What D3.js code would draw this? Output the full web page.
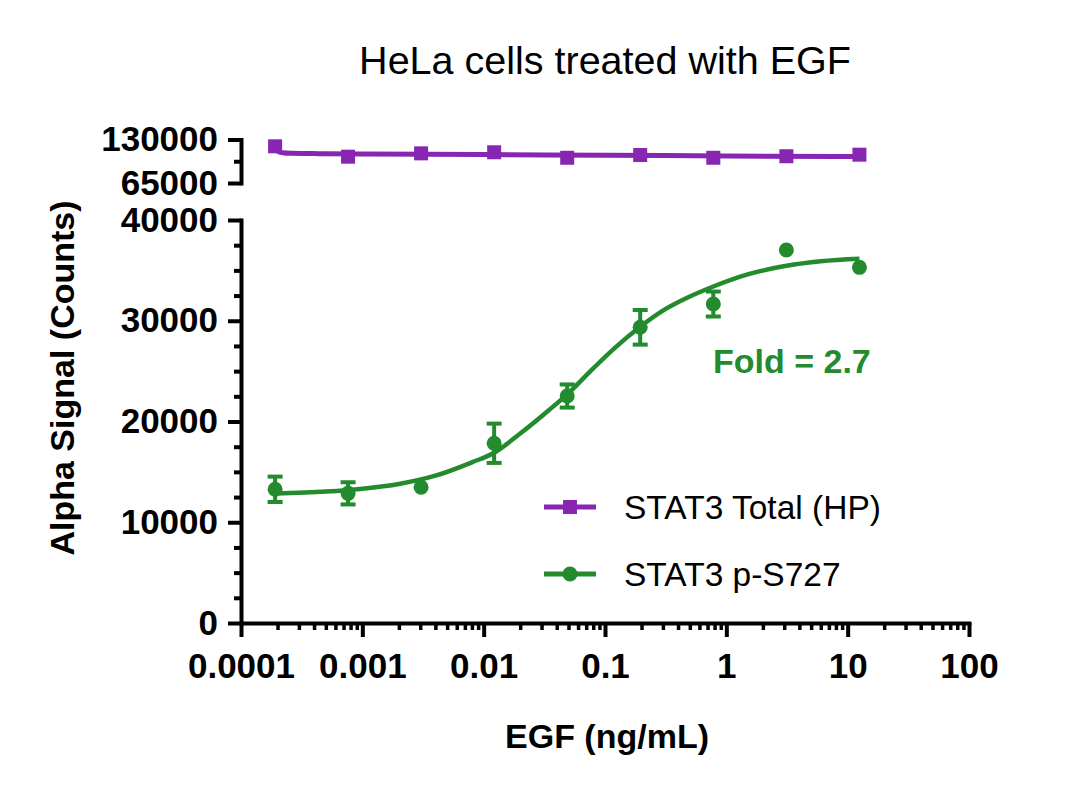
<!DOCTYPE html>
<html><head><meta charset="utf-8">
<script src="https://cdn.jsdelivr.net/npm/d3@7"></script>
<style>body{margin:0;background:#fff}svg{display:block}</style>
</head><body><svg id="c" width="1080" height="794"></svg>
<script>
// ---- data ----
const concentrations = [0.000191, 0.000763, 0.00305, 0.0122, 0.0488, 0.195, 0.781, 3.125, 12.5];
const totalValues = [119800, 104300, 109300, 110900, 102700, 106800, 102700, 105000, 107300];
const phosValues = [13270, 12870, 13470, 17840, 22530, 29350, 31660, 37020, 35300];
const phosErrors = [1260, 1100, 0, 1950, 1150, 1720, 1240, 0, 0];
const totalCurveX = [0.000191, 0.0002, 0.00022, 0.00026, 0.0004, 0.001, 0.01, 0.1, 1, 12.5];
const totalCurveY = [117000, 113000, 110200, 109300, 108900, 108400, 107500, 106500, 105400, 104500];
const phosCurveX = [0.000191, 0.0005, 0.001, 0.002, 0.004, 0.008, 0.0122, 0.02, 0.035, 0.0488, 0.08, 0.12, 0.195, 0.3, 0.5, 0.781, 1.5, 3.125, 6, 12.5];
const phosCurveY = [12860, 13050, 13330, 13800, 14620, 15950, 16900, 18800, 21190, 22700, 25270, 27280, 29400, 31000, 32400, 33400, 34600, 35450, 35900, 36150];
const xTickValues = [1e-4, 1e-3, 1e-2, 0.1, 1, 10, 100];
const xTickLabels = ["0.0001", "0.001", "0.01", "0.1", "1", "10", "100"];
const yLowTicks = [0, 10000, 20000, 30000, 40000];
const yHighTicks = [65000, 130000];
const seriesNames = ["STAT3 Total (HP)", "STAT3 p-S727"];
const titleText = "HeLa cells treated with EGF";
const xTitle = "EGF (ng/mL)";
const yTitle = "Alpha Signal (Counts)";
const foldText = "Fold = 2.7";

// ---- styles ----
const PURPLE = "#8726b3", GREEN = "#238b2e";
const FONT = "'Liberation Sans', Arial, sans-serif";

const svg = d3.select("#c");
const x = d3.scaleLog().domain([1e-4, 100]).range([241, 969]);
const yLow = d3.scaleLinear().domain([0, 40000]).range([623, 220]);
const yHigh = d3.scaleLinear().domain([65000, 130000]).range([183, 139.5]);

function styleAxis(g) {
  g.select(".domain").attr("stroke", "#000").attr("stroke-width", 4).attr("stroke-linecap", "square");
  g.selectAll(".tick line").attr("stroke", "#000").attr("stroke-width", 4);
  g.selectAll(".tick text").attr("fill", "#000").style("font-family", FONT)
    .style("font-weight", "bold").style("font-size", "35px");
}

// bottom y segment
const gyl = svg.append("g").attr("transform", "translate(241,0)")
  .call(d3.axisLeft(yLow).tickValues(yLowTicks).tickSize(13).tickSizeOuter(0).tickPadding(10).tickFormat(d => d));
styleAxis(gyl);
const lowMinor = d3.range(0, 40001, 2500).filter(v => !yLowTicks.includes(v));
svg.append("g").attr("transform", "translate(241,0)")
  .call(d3.axisLeft(yLow).tickValues(lowMinor).tickSize(7).tickSizeOuter(0).tickFormat(""))
  .call(g => { g.select(".domain").remove(); g.selectAll(".tick line").attr("stroke", "#000").attr("stroke-width", 4); });

// top y segment
const gyh = svg.append("g").attr("transform", "translate(241,0)")
  .call(d3.axisLeft(yHigh).tickValues(yHighTicks).tickSize(13).tickSizeOuter(0).tickPadding(10).tickFormat(d => d));
styleAxis(gyh);
svg.append("g").attr("transform", "translate(241,0)")
  .call(d3.axisLeft(yHigh).tickValues([97500]).tickSize(7).tickSizeOuter(0).tickFormat(""))
  .call(g => { g.select(".domain").remove(); g.selectAll(".tick line").attr("stroke", "#000").attr("stroke-width", 4); });

// x axis
const gx = svg.append("g").attr("transform", "translate(0,623)")
  .call(d3.axisBottom(x).tickValues(xTickValues).tickSize(14).tickSizeOuter(0).tickPadding(16)
    .tickFormat((d, i) => xTickLabels[i]));
styleAxis(gx);
const xMinor = [];
for (let k = -4; k < 2; k++) for (let m = 2; m <= 9; m++) xMinor.push(m * Math.pow(10, k));
svg.append("g").attr("transform", "translate(0,623)")
  .call(d3.axisBottom(x).tickValues(xMinor).tickSize(7).tickSizeOuter(0).tickFormat(""))
  .call(g => { g.select(".domain").remove(); g.selectAll(".tick line").attr("stroke", "#000").attr("stroke-width", 3.5); });

// titles
svg.append("text").attr("x", 605).attr("y", 74).attr("text-anchor", "middle")
  .style("font-family", FONT).style("font-size", "39.5px").text(titleText);
svg.append("text").attr("x", 607).attr("y", 748).attr("text-anchor", "middle")
  .style("font-family", FONT).style("font-weight", "bold").style("font-size", "34px").text(xTitle);
svg.append("text").attr("transform", "translate(74,378) rotate(-90)").attr("text-anchor", "middle")
  .style("font-family", FONT).style("font-weight", "bold").style("font-size", "34px").text(yTitle);

// curves
const lineLow = d3.line().x(d => x(d[0])).y(d => yLow(d[1])).curve(d3.curveMonotoneX);
const lineHigh = d3.line().x(d => x(d[0])).y(d => yHigh(d[1])).curve(d3.curveMonotoneX);
svg.append("path").attr("d", lineHigh(d3.zip(totalCurveX, totalCurveY)))
  .attr("fill", "none").attr("stroke", PURPLE).attr("stroke-width", 5);
svg.append("path").attr("d", lineLow(d3.zip(phosCurveX, phosCurveY)))
  .attr("fill", "none").attr("stroke", GREEN).attr("stroke-width", 4.5);

// purple squares
const SQ = 14;
svg.append("g").selectAll("rect").data(d3.zip(concentrations, totalValues)).join("rect")
  .attr("x", d => x(d[0]) - SQ / 2).attr("y", d => yHigh(d[1]) - SQ / 2)
  .attr("width", SQ).attr("height", SQ).attr("fill", PURPLE);

// green error bars + points
const eb = svg.append("g").attr("stroke", GREEN).attr("stroke-width", 4);
concentrations.forEach((c, i) => {
  const e = phosErrors[i];
  if (!e) return;
  const cx = x(c), y1 = yLow(phosValues[i] + e), y2 = yLow(phosValues[i] - e);
  eb.append("line").attr("x1", cx).attr("x2", cx).attr("y1", y1).attr("y2", y2);
  eb.append("line").attr("x1", cx - 7.5).attr("x2", cx + 7.5).attr("y1", y1).attr("y2", y1);
  eb.append("line").attr("x1", cx - 7.5).attr("x2", cx + 7.5).attr("y1", y2).attr("y2", y2);
});
svg.append("g").selectAll("circle").data(d3.zip(concentrations, phosValues)).join("circle")
  .attr("cx", d => x(d[0])).attr("cy", d => yLow(d[1])).attr("r", 7.5).attr("fill", GREEN);

// fold annotation
svg.append("text").attr("x", 713).attr("y", 373).attr("fill", GREEN)
  .style("font-family", FONT).style("font-weight", "bold").style("font-size", "34px").text(foldText);

// legend
const legY = [507, 574];
const leg = svg.append("g");
seriesNames.forEach((name, i) => {
  const col = i === 0 ? PURPLE : GREEN;
  const yy = legY[i];
  leg.append("line").attr("x1", 544).attr("x2", 596).attr("y1", yy).attr("y2", yy)
    .attr("stroke", col).attr("stroke-width", 5);
  if (i === 0) leg.append("rect").attr("x", 570 - SQ / 2).attr("y", yy - SQ / 2).attr("width", SQ).attr("height", SQ).attr("fill", col);
  else leg.append("circle").attr("cx", 570).attr("cy", yy).attr("r", 7.5).attr("fill", col);
  leg.append("text").attr("x", 624).attr("y", yy + 12)
    .style("font-family", FONT).style("font-size", "33.5px").text(name);
});
</script></body></html>
